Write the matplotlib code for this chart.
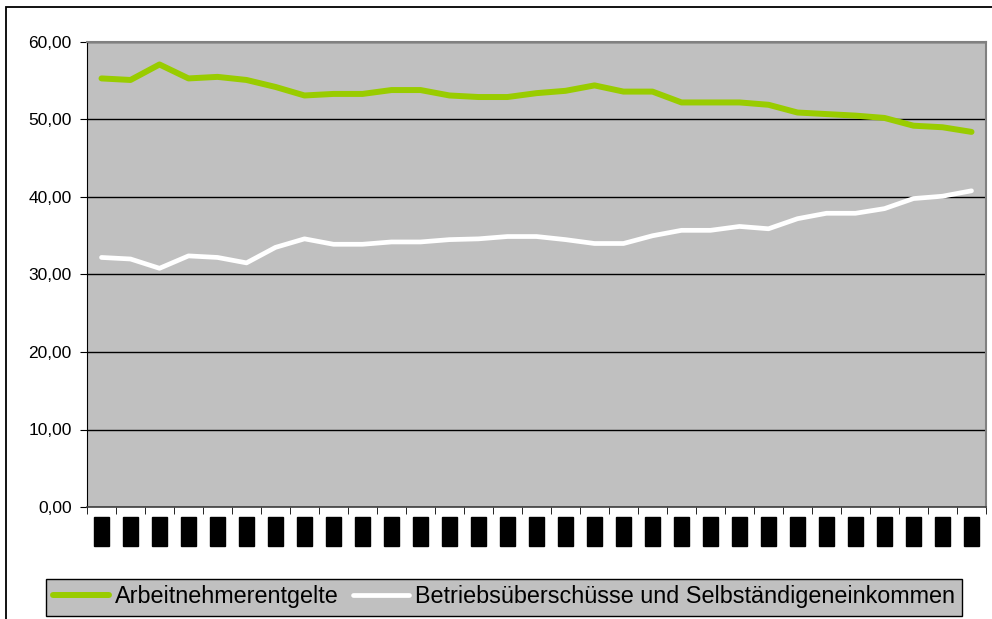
import matplotlib.pyplot as plt
from matplotlib.patches import Rectangle
import numpy as np

plt.rcParams['font.family'] = ['Liberation Sans', 'DejaVu Sans']

# Jahre (Achsenbeschriftung im Original geschwärzt)
years = [str(y) for y in range(1980, 2011)]

arbeitnehmer = [55.3, 55.1, 57.1, 55.3, 55.5, 55.1, 54.2, 53.1, 53.3, 53.3,
                53.8, 53.8, 53.1, 52.9, 52.9, 53.4, 53.7, 54.4, 53.6, 53.6,
                52.2, 52.2, 52.2, 51.9, 50.9, 50.7, 50.5, 50.2, 49.2, 49.0,
                48.4]
betrieb = [32.2, 32.0, 30.8, 32.4, 32.2, 31.5, 33.5, 34.6, 33.9, 33.9,
           34.2, 34.2, 34.5, 34.6, 34.9, 34.9, 34.5, 34.0, 34.0, 35.0,
           35.7, 35.7, 36.2, 35.9, 37.2, 37.9, 37.9, 38.5, 39.8, 40.1,
           40.8]

W, H = 992, 619
fig = plt.figure(figsize=(W / 100, H / 100), dpi=100)

# outer chart frame (cut off at the right and bottom)
fig.patches.append(Rectangle((5.5 / W, -0.2), 1.2, 1.2 - 7 / H,
                             transform=fig.transFigure, fill=False,
                             edgecolor='black', linewidth=1.3))

ax = fig.add_axes([87 / W, 1 - 507 / H, (986 - 87) / W, (507 - 42) / H])
ax.set_facecolor('#C0C0C0')

x = np.arange(len(years))
ax.plot(x, arbeitnehmer, color='#99CC00', linewidth=4.3,
        solid_capstyle='round', label='Arbeitnehmerentgelte', zorder=3)
ax.plot(x, betrieb, color='white', linewidth=3.4,
        solid_capstyle='round',
        label='Betriebsüberschüsse und Selbständigeneinkommen', zorder=3)

ax.set_xlim(-0.5, len(years) - 0.5)
ax.set_ylim(0, 60)
ax.set_yticks(np.arange(0, 61, 10))
ax.set_yticklabels([f'{v:.2f}'.replace('.', ',') for v in range(0, 61, 10)],
                   fontsize=12.5)
ax.yaxis.grid(True, color='black', linewidth=1.0)
ax.set_axisbelow(True)

ax.set_xticks(x)
ax.set_xticklabels(years, rotation=90, fontsize=7.5, color='black',
                   va='top', ha='center')
for lbl in ax.get_xticklabels():
    lbl.set_bbox(dict(facecolor='black', edgecolor='black', pad=2.0))
ax.tick_params(axis='x', which='major', length=0, pad=9.2)
ax.set_xticks(np.arange(-0.5, len(years), 1), minor=True)
ax.tick_params(axis='x', which='minor', length=5, direction='out')
ax.tick_params(axis='y', length=5, direction='out', pad=6)

for side in ['top', 'right']:
    ax.spines[side].set_color('#808080')
    ax.spines[side].set_linewidth(1.5)
ax.spines['left'].set_color('black')
ax.spines['bottom'].set_color('#404040')
ax.spines['bottom'].set_linewidth(1.2)

leg = fig.legend(loc='center', bbox_to_anchor=((46 + 962) / 2 / W, 1 - 597 / H),
                 ncol=2, fontsize=16.8, frameon=True, fancybox=False,
                 handlelength=2.4, handletextpad=0.25, columnspacing=0.6,
                 borderpad=0.3)
frame = leg.get_frame()
frame.set_facecolor('#C0C0C0')
frame.set_edgecolor('black')
frame.set_alpha(1)
frame.set_linewidth(1.0)

fig.savefig('out.png', dpi=100)
